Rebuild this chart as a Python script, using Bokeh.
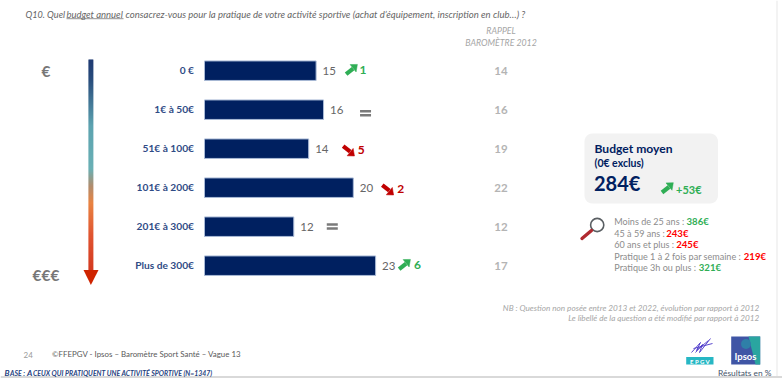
import math

from bokeh.core.properties import value
from bokeh.embed import file_html
from bokeh.models import ColumnDataSource, Range1d
from bokeh.plotting import figure
from bokeh.resources import INLINE

# Survey results, in percent
categories = ["0 €", "1€ à 50€", "51€ à 100€", "101€ à 200€", "201€ à 300€", "Plus de 300€"]
shares_2023 = [15, 16, 14, 20, 12, 23]
shares_2012 = [14, 16, 19, 22, 12, 17]
changes = ["+1", "=", "-5", "-2", "=", "+6"]

# Average budget by respondent profile
profile_labels = ["Moins de 25 ans : ", "45 à 59 ans : ", "60 ans et plus : ",
                  "Pratique 1 à 2 fois par semaine : ", "Pratique 3h ou plus : "]
profile_values = ["386€", "243€", "245€", "219€", "321€"]
profile_colors = ["green", "red", "red", "red", "green"]

NAVY = "#002060"
LABEL_BLUE = "#2f4b85"
GREY = "#7f7f7f"
LIGHT = "#b4b4b4"
GREEN = "#2fae55"
RED = "#c00000"
FONT = "Lato"

W, H = 782, 378
BAR_X0 = 204.0
PX_PER_UNIT = 7.44
ROW0 = 70.2
ROW_STEP = 39.0

# Horizontal offsets from the bar end: change symbol and change figure
SYMBOL_DX = [35.5, 42, 40, 34.5, 38.5, 29]
FIGURE_DX = [43.5, 0, 49, 44, 0, 38.5]
# Left edge of each amount in the profile list
VALUE_X = [686, 665.7, 675.7, 743.3, 698.3]

p = figure(width=W, height=H, output_backend="svg", toolbar_location=None,
           x_range=Range1d(-BAR_X0 / PX_PER_UNIT, (W - BAR_X0) / PX_PER_UNIT),
           y_range=Range1d((H - ROW0) / ROW_STEP, -ROW0 / ROW_STEP),
           min_border=0, outline_line_color=None, background_fill_color="white")
p.axis.visible = False
p.grid.visible = False
p.extra_x_ranges["px"] = Range1d(0, W)
p.extra_y_ranges["px"] = Range1d(H, 0)
PX = dict(x_range_name="px", y_range_name="px")


def row_y(i):
    return ROW0 + ROW_STEP * i


def txt(x, y, s, size, color, style="normal", align="left", baseline="middle"):
    p.text([x], [y], text=[s], text_font=value(FONT), text_font_size=f"{size}px",
           text_color=color, text_font_style=style, text_align=align,
           text_baseline=baseline, **PX)


def trend_arrow(x, y, up, color):
    # Short thick diagonal arrow, centred on (x, y)
    d = 1 if up else -1
    p.line([x - 5.5, x + 1.5], [y + 4 * d, y - 1.5 * d], line_color=color, line_width=4.2, **PX)
    p.patch([x - 1.5, x + 5.8, x + 4.5], [y - 5.6 * d, y - 5.8 * d, y + 1.8 * d],
            fill_color=color, line_color=color, line_width=0.5, **PX)


# Page edges
p.quad(left=[0], right=[W], top=[375.5], bottom=[H], fill_color="#d9d9d9", line_color=None, **PX)
p.quad(left=[776], right=[777], top=[0], bottom=[375.5], fill_color="#e8e8e8", line_color=None, **PX)

# Question, in three runs so that the underlined words can be set apart
TITLE = "#666666"
txt(25, 13.5, "Q10. Quel", 9.1, TITLE, "italic")
txt(66, 13.5, "budget annuel", 9.5, TITLE, "italic")
txt(125, 13.5, "consacrez-vous pour la pratique de votre activité sportive "
    "(achat d’équipement, inscription en club…) ?", 9.55, TITLE, "italic")
p.line([66, 123], [18.2, 18.2], line_color=TITLE, line_width=0.7, **PX)
txt(500.5, 29.5, "RAPPEL", 8.75, "#a6a6a6", "italic", "center")
txt(500.5, 41.5, "BAROMÈTRE 2012", 8.75, "#a6a6a6", "italic", "center")

# Budget scale: a vertical arrow fading from navy to red
stops = [(59, (0, 32, 96)), (78, (10, 50, 105)), (125, (70, 150, 165)), (168, (85, 165, 170)),
         (185, (165, 125, 90)), (202, (230, 115, 40)), (235, (220, 60, 20)), (270, (205, 30, 0))]
for a, b in zip(stops[:-1], stops[1:]):
    for yy in range(a[0], b[0]):
        t = (yy - a[0]) / (b[0] - a[0])
        c = tuple(int(a[1][k] + (b[1][k] - a[1][k]) * t) for k in range(3))
        p.quad(left=[88], right=[92.8], top=[yy], bottom=[yy + 1.2], fill_color=c, line_color=None, **PX)
p.patch([83, 98, 90.4], [269.5, 269.5, 284.5], fill_color="#cf2400", line_color=None, **PX)
txt(45.5, 70.5, "€", 15.5, "#777777", "bold", "center")
txt(45.5, 274, "€€€", 15.5, "#777777", "bold", "center")

# Bars, drawn from the survey values in data coordinates
rows = list(range(len(categories)))
src = ColumnDataSource(dict(y=rows, right=shares_2023, left=[0] * len(rows)))
p.hbar(y="y", left="left", right="right", height=0.5, source=src,
       fill_color=NAVY, line_color="#a9bad6", line_width=1)

for i, (cat, share, past, change) in enumerate(zip(categories, shares_2023, shares_2012, changes)):
    y = row_y(i)
    end = BAR_X0 + share * PX_PER_UNIT
    txt(193.5, y - 0.5, cat, 10.2, LABEL_BLUE, "bold", "right")
    txt(end + 6.5, y + 0.5, str(share), 11.5, "#666666")
    txt(500.5, y + 0.5, str(past), 11.5, LIGHT, "bold", "center")
    sx = end + SYMBOL_DX[i]
    if change == "=":
        # The two "unchanged" signs do not sit at the same height
        top = y + 0.3 if i == 1 else y - 3.5
        p.quad(left=[sx - 5.5] * 2, right=[sx + 5.5] * 2, top=[top, top + 4], bottom=[top + 2.6, top + 6.6],
               fill_color="#7a7a7a", line_color=None, **PX)
    else:
        up = change.startswith("+")
        color = GREEN if up else RED
        trend_arrow(sx, y - 0.5 if up else y + 1.5, up, color)
        txt(end + FIGURE_DX[i], y - 0.5 if up else y + 1, change[1:], 12, color, "bold")

# Average budget card with rounded corners
xs, ys = [], []
for cx, cy, start in [(709.5, 141, -90), (709.5, 195, 0), (592, 195, 90), (592, 141, 180)]:
    for k in range(0, 91, 15):
        ang = math.radians(start + k)
        xs.append(cx + 8 * math.cos(ang))
        ys.append(cy + 8 * math.sin(ang))
p.patch(xs, ys, fill_color="#f2f2f2", line_color=None, **PX)
txt(594, 147.5, "Budget moyen", 12.1, NAVY, "bold")
txt(594, 162, "(0€ exclus)", 10.5, NAVY, "bold")
txt(593.5, 182, "284€", 20, NAVY, "bold")
trend_arrow(667, 188, True, GREEN)
txt(675.5, 188.5, "+53€", 11, GREEN, "bold")

# Magnifying glass
p.circle([596.7], [224.5], radius=6.6, fill_color="white", line_color="#5a5f63", line_width=1.6, **PX)
p.line([581.5, 591], [238, 230], line_color="#b02a30", line_width=3.4, line_cap="round", **PX)

# Profile breakdown: grey label then coloured amount
for i, (lab, val, col, vx) in enumerate(zip(profile_labels, profile_values, profile_colors, VALUE_X)):
    y = 221 + 11.55 * i
    txt(613.8, y, lab.strip(), 9.05, "#8c8c8c")
    txt(vx, y, val, 9.6, GREEN if col == "green" else "#ff0000", "bold")

# Notes
txt(759, 307.5, "NB : Question non posée entre 2013 et 2022, évolution par rapport à 2012", 8.2, "#a6a6a6", "italic", "right")
txt(759, 317.5, "Le libellé de la question a été modifié par rapport à 2012", 8.2, "#a6a6a6", "italic", "right")

# Footer
txt(23, 354, "24", 8, "#9a9a9a")
txt(51.5, 353.5, "©FFEPGV - Ipsos – Baromètre Sport Santé – Vague 13", 7.9, "#595959")
FOOT = "#1f3f80"
txt(4, 372.5, "B", 8.2, FOOT, "bold italic")
txt(9.5, 372.8, "ASE :", 6.9, FOOT, "bold italic")
txt(26.5, 372.5, "A", 8.2, FOOT, "bold italic")
txt(32.5, 372.8, "CEUX QUI PRATIQUENT UNE ACTIVITÉ SPORTIVE (N=1347)", 6.9, FOOT, "bold italic")
txt(771, 372, "Résultats en %", 8.4, "#44546a", "normal", "right")

# Partner logos
p.patch([730.7, 759.7, 759.7, 730.7], [336, 336, 364, 364], fill_color="#3f55a5", line_color=None, **PX)
p.patch([748, 759.7, 759.7, 755], [336, 336, 364, 364], fill_color="#2aa5a0", line_color=None, **PX)
p.circle([745.5], [343.5], radius=5, fill_color="#2f7fa8", line_color=None, **PX)
txt(745, 356, "Ipsos", 9.5, "white", "bold", "center")
p.multi_line([[691, 700, 696, 708], [695, 702, 699, 710], [693, 712]],
             [[352, 342, 350, 340], [352, 344, 352, 338], [348, 343]],
             line_color="#4a35c8", line_width=0.9, **PX)
p.quad(left=[685.7], right=[713], top=[356.5], bottom=[364], fill_color="#27b7c4", line_color=None, **PX)
txt(699.5, 360.5, "E P G V", 6, "white", "bold", "center")

open("out.html", "w").write(file_html(p, INLINE))
